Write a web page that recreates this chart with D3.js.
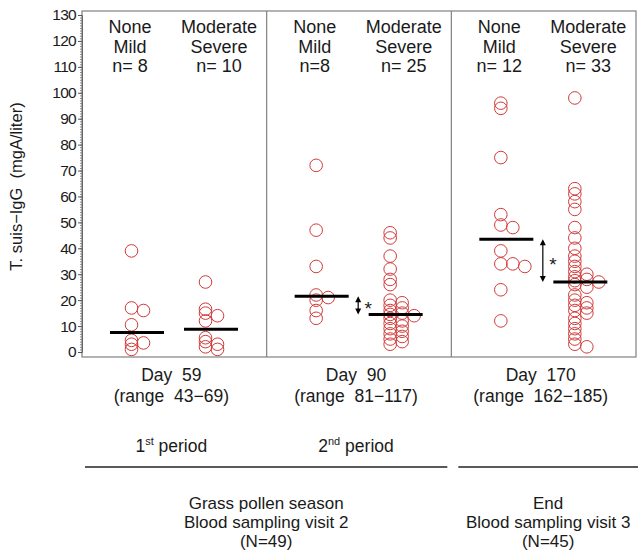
<!DOCTYPE html>
<html>
<head>
<meta charset="utf-8">
<script src="https://cdn.jsdelivr.net/npm/d3@7"></script>
<style>
  html, body { margin: 0; padding: 0; background: #fff; }
  svg text { font-family: "Liberation Sans", Arial, sans-serif; fill: #1a1a1a; }
</style>
</head>
<body>
<svg id="chart" width="638" height="552"></svg>
<script>
// ---------- data ----------
const panels = ["Day 59", "Day 90", "Day 170"];
const ranges = ["(range 43\u221269)", "(range 81\u2212117)", "(range 162\u2212185)"];
const groups = ["None Mild", "Moderate Severe"];
const groupLine1 = ["None", "Moderate"];
const groupLine2 = ["Mild", "Severe"];
const nLabels = [["n= 8", "n= 10"], ["n=8", "n= 25"], ["n= 12", "n= 33"]];

const day59NoneMild = [39, 17, 16, 10.5, 4.5, 3.5, 3, 1];
const day59ModSevere = [27, 16.5, 15, 14, 12, 5.5, 4, 3, 2, 1];
const day90NoneMild = [72, 47, 33, 22, 21, 20, 16, 13];
const day90ModSevere = [46, 44, 37, 32, 28, 26, 20, 19, 18, 17, 16, 15, 14.5, 14, 13, 12, 11, 10, 9, 8, 7, 6, 5, 4, 3];
const day170NoneMild = [96, 94, 75, 53, 49, 48, 39, 34, 34, 33, 24, 12];
const day170ModSevere = [98, 63, 61, 58, 55, 48, 44, 40, 37, 35, 33, 31, 30, 29, 28, 27.5, 27, 26, 25, 22, 20, 19, 18, 17, 16, 15, 13, 11, 9, 7, 5, 3, 2];
const seriesByPanel = [
  [day59NoneMild, day59ModSevere],
  [day90NoneMild, day90ModSevere],
  [day170NoneMild, day170ModSevere]
];
const significant = [false, true, true];

const yTicks = d3.range(0, 131, 10);
const yMinorTicks = d3.range(0, 131, 1);
const yLabel = "T. suis\u2212IgG  (mgA/liter)";
const periodLabels = [["1", "st", " period"], ["2", "nd", " period"]];
const bottomGroups = [
  {lines: ["Grass pollen season", "Blood sampling visit 2", "(N=49)"], from: 0, to: 2},
  {lines: ["End", "Blood sampling visit 3", "(N=45)"], from: 2, to: 3}
];

// ---------- layout ----------
const svg = d3.select("#chart");
const plotL = 82, plotR = 636, plotT = 11, plotB = 357;
const y = d3.scaleLinear().domain([0, 130]).range([352, 15]);
const xPanel = d3.scaleBand().domain(panels).range([plotL, plotR]);
const xGroup = d3.scalePoint().domain(groups).range([55, 129]);
const xHeader = d3.scalePoint().domain(groups).range([48, 137]);
const red = "#d23a3a";

// frame
svg.append("rect").attr("x", plotL).attr("y", plotT)
  .attr("width", plotR - plotL).attr("height", plotB - plotT)
  .attr("fill", "none").attr("stroke", "#808080").attr("stroke-width", 1.2);
panels.slice(1).forEach(p => {
  svg.append("line").attr("x1", xPanel(p)).attr("x2", xPanel(p))
    .attr("y1", plotT).attr("y2", plotB).attr("stroke", "#808080").attr("stroke-width", 1.2);
});

// y axis
const axisG = svg.append("g").attr("transform", `translate(${plotL},0)`);
axisG.call(d3.axisLeft(y).tickValues(yMinorTicks).tickSize(2).tickFormat(""))
  .call(g => g.select(".domain").remove())
  .call(g => g.selectAll("line").attr("stroke", "#888"));
const axisMajor = svg.append("g").attr("transform", `translate(${plotL},0)`)
  .call(d3.axisLeft(y).tickValues(yTicks).tickSize(4).tickPadding(2));
axisMajor.select(".domain").attr("stroke", "#666");
axisMajor.selectAll("line").attr("stroke", "#555");
axisMajor.selectAll("text").attr("font-size", 15.5).attr("fill", "#1a1a1a")
  .style("font-family", "'Liberation Sans', Arial, sans-serif").attr("letter-spacing", -0.7);

svg.append("text")
  .attr("transform", `translate(22,${(y(0) + y(130)) / 2 + 3}) rotate(-90)`)
  .attr("text-anchor", "middle").attr("font-size", 16.5)
  .style("white-space", "pre").text(yLabel);

// jitter layout (deterministic)
function layoutPoints(vals, cx) {
  const placed = [];
  return vals.slice().sort((a, b) => b - a).map(v => {
    const yy = y(v);
    let col = 0;
    while (placed.some(p => p.col === col && Math.abs(p.y - yy) < 3.5)) col++;
    placed.push({col, y: yy});
    return {v, x: cx - 5.5 + col * 12, y: yy};
  });
}

panels.forEach((p, pi) => {
  const px = xPanel(p);
  const meds = [];
  groups.forEach((g, gi) => {
    const hx = px + xHeader(g);
    const hdr = svg.append("text").attr("text-anchor", "middle").attr("font-size", 18);
    hdr.append("tspan").attr("x", hx).attr("y", 33).text(groupLine1[gi]);
    hdr.append("tspan").attr("x", hx).attr("y", 53).text(groupLine2[gi]);
    hdr.append("tspan").attr("x", hx).attr("y", 72).style("white-space", "pre").text(nLabels[pi][gi]);

    const cx = px + xGroup(g);
    const pts = layoutPoints(seriesByPanel[pi][gi], cx);
    svg.append("g").selectAll("circle").data(pts).join("circle")
      .attr("cx", d => d.x).attr("cy", d => d.y).attr("r", 6.3)
      .attr("fill", "none").attr("stroke", red).attr("stroke-width", 1);
    const med = d3.median(seriesByPanel[pi][gi]);
    meds.push(med);
    svg.append("line").attr("x1", cx - 27).attr("x2", cx + 27)
      .attr("y1", y(med)).attr("y2", y(med))
      .attr("stroke", "#000").attr("stroke-width", 3);
  });
  if (significant[pi]) {
    const ax = px + (xGroup(groups[0]) + xGroup(groups[1])) / 2 - 0.5;
    const y1 = y(meds[0]), y2 = y(meds[1]);
    svg.append("line").attr("x1", ax).attr("x2", ax).attr("y1", y1 + 2).attr("y2", y2 - 2)
      .attr("stroke", "#000").attr("stroke-width", 1.2);
    [[y1, 1], [y2, -1]].forEach(([yy, dir]) => {
      svg.append("path")
        .attr("d", `M${ax},${yy} L${ax - 3},${yy + dir * 6} L${ax + 3},${yy + dir * 6} Z`)
        .attr("fill", "#000");
    });
    svg.append("text").attr("x", ax + 10).attr("y", (y1 + y2) / 2 + 10)
      .attr("text-anchor", "middle").attr("font-size", 19).text("*");
  }
  const tx = px + xPanel.bandwidth() / 2 - 3;
  svg.append("text").attr("x", tx).attr("y", 381).attr("text-anchor", "middle")
    .attr("font-size", 17.5).style("white-space", "pre").text(p.replace(" ", "  "));
  svg.append("text").attr("x", tx).attr("y", 402).attr("text-anchor", "middle")
    .attr("font-size", 17.5).style("white-space", "pre").text(ranges[pi].replace(" ", "  "));
  if (pi < periodLabels.length) {
    const t = svg.append("text").attr("x", tx).attr("y", 452).attr("text-anchor", "middle").attr("font-size", 17.5);
    t.append("tspan").text(periodLabels[pi][0]);
    t.append("tspan").attr("font-size", 11).attr("dy", -7).text(periodLabels[pi][1]);
    t.append("tspan").attr("dy", 7).style("white-space", "pre").text(periodLabels[pi][2]);
  }
});

// bottom grouping lines
bottomGroups.forEach((bg, i) => {
  const x1 = i === 0 ? 85 : xPanel(panels[bg.from]) + 7;
  const x2 = i === 0 ? xPanel(panels[bg.to]) - 4 : 638;
  svg.append("line").attr("x1", x1).attr("x2", x2).attr("y1", 467).attr("y2", 467)
    .attr("stroke", "#222").attr("stroke-width", 1.5);
  const cx = (x1 + x2) / 2;
  bg.lines.forEach((ln, li) => {
    svg.append("text").attr("x", cx).attr("y", 509 + li * 19).attr("text-anchor", "middle")
      .attr("font-size", 17).text(ln);
  });
});
</script>
</body>
</html>
